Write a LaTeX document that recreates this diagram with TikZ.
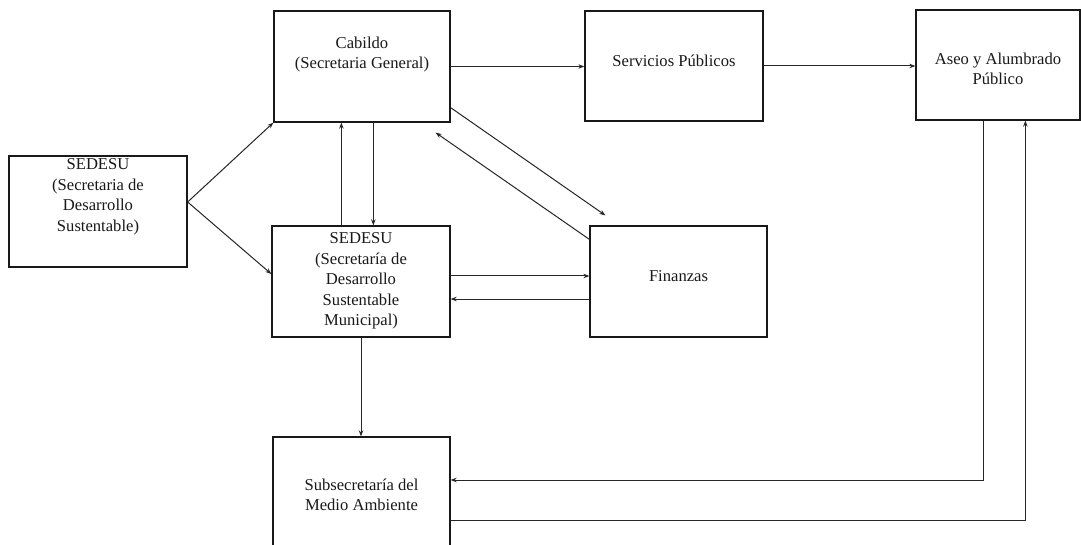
\documentclass[tikz,border=0pt]{standalone}
\usepackage{fontspec}
\setmainfont{Liberation Serif}
\usetikzlibrary{arrows.meta}
\begin{document}
\begin{tikzpicture}[x=1pt,y=-1pt,
  box/.style={draw=black!90,line width=1.3pt,minimum width=#1,inner sep=0pt},
  lbl/.style={align=center,font=\fontsize{16.6}{20.5}\selectfont,inner sep=0pt,text=black!90},
  conn/.style={draw=black!85,line width=1pt,-{Stealth[length=6pt,width=4.5pt]}}]
\useasboundingbox (0,0) rectangle (1081,545);
\clip (0,0) rectangle (1081,545);
\fill[white] (0,0) rectangle (1081,545);
% boxes
\node[box=178pt,minimum height=111pt] (sed) at (98,211.5) {};
\node[box=176pt,minimum height=111pt] (cab) at (362,66.5) {};
\node[box=178pt,minimum height=110pt] (ser) at (674,66) {};
\node[box=164pt,minimum height=110pt] (ase) at (998,65) {};
\node[box=178pt,minimum height=111pt] (sdm) at (361,281.5) {};
\node[box=177pt,minimum height=111pt] (fin) at (678.5,281.5) {};
\node[box=177pt,minimum height=133pt] (sub) at (361.5,503.5) {};
% texts
\node[lbl] (sedt) at (98,197) {SEDESU\\(Secretaria de\\Desarrollo\\Sustentable)};
\node[lbl] (cabt) at (362,54.5) {Cabildo\\(Secretaria General)};
\node[lbl] (sert) at (674,61) {Servicios Públicos};
\node[lbl] (aset) at (998,69) {Aseo y Alumbrado\\Público};
\node[lbl] (sdmt) at (361,281) {SEDESU\\(Secretaría de\\Desarrollo\\Sustentable\\Municipal)};
\node[lbl] (fint) at (678.5,276) {Finanzas};
\node[lbl] (subt) at (361.5,495) {Subsecretaría del\\Medio Ambiente};
% connectors
\coordinate (s0) at ([yshift=9.5pt]sed.east);
\draw[conn] (s0) -- (cab.south west);
\draw[conn] (s0) -- ([yshift=7.5pt]sdm.west);
\draw[conn] ([xshift=70pt]sdm.north west) -- ([xshift=70pt]sdm.north west |- cab.south);
\draw[conn] ([xshift=100pt]cab.south west) -- ([xshift=100pt]cab.south west |- sdm.north);
\draw[conn] (cab.east) -- (cab.east -| ser.west);
\draw[conn] (ser.east) -- (ser.east -| ase.west);
\draw[conn] ([yshift=15pt]cab.south east) -- ([xshift=16pt,yshift=10pt]fin.north west);
\draw[conn] ([yshift=-14pt]fin.north west) -- ([xshift=-15pt,yshift=-10pt]cab.south east);
\draw[conn] ([yshift=5.5pt]sdm.east) -- ([yshift=5.5pt]fin.west);
\draw[conn] ([yshift=-17.5pt]fin.west) -- ([yshift=-17.5pt]sdm.east);
\draw[conn] (sdm.south) -- (sdm.south |- sub.north);
\draw[conn] ([xshift=68pt]ase.south west) |- ([yshift=23.5pt]sub.east);
\draw[conn] ([yshift=-16.5pt]sub.east) -| ([xshift=110pt]ase.south west);
\end{tikzpicture}
\end{document}
